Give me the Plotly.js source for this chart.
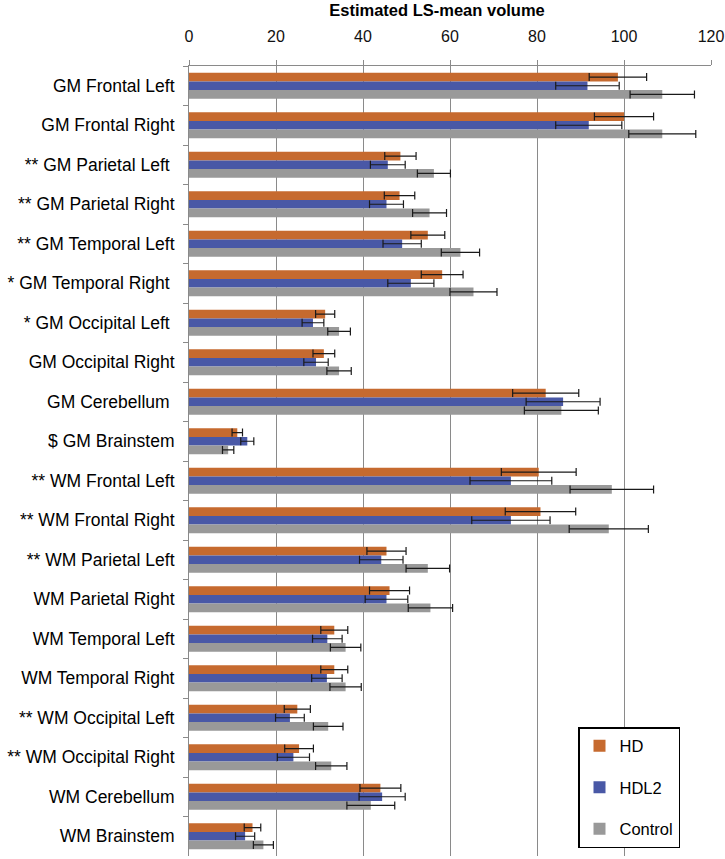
<!DOCTYPE html>
<html>
<head>
<meta charset="utf-8">
<script src="https://cdn.plot.ly/plotly-3.0.1.min.js"></script>
<style>html,body{margin:0;padding:0;background:#fff;}#chart{width:725px;height:859px;}</style>
</head>
<body>
<div id="chart"></div>
<script>
const categories = [
  "GM Frontal Left", "GM Frontal Right", "** GM Parietal Left\u00a0", "** GM Parietal Right",
  "** GM Temporal Left", "* GM Temporal Right\u00a0", "* GM Occipital Left\u00a0", "GM Occipital Right",
  "GM Cerebellum\u00a0", "$ GM Brainstem", "** WM Frontal Left", "** WM Frontal Right",
  "** WM Parietal Left", "WM Parietal Right", "WM Temporal Left", "WM Temporal Right",
  "** WM Occipital Left", "** WM Occipital Right", "WM Cerebellum", "WM Brainstem"
];
const hdValues      = [98.6, 100.0, 48.6, 48.4, 54.9, 58.2, 31.3, 31.0, 82.0, 11.1, 80.4, 80.8, 45.4, 46.1, 33.4, 33.4, 24.9, 25.3, 44.0, 14.6];
const hdErrors      = [6.6, 6.8, 3.6, 3.5, 3.9, 4.8, 2.2, 2.5, 7.6, 1.2, 8.6, 8.1, 4.5, 4.6, 3.1, 3.1, 3.0, 3.3, 4.7, 1.9];
const hdl2Values    = [91.6, 91.9, 45.7, 45.4, 49.0, 51.0, 28.5, 29.2, 86.0, 13.4, 74.0, 74.0, 44.2, 45.4, 31.8, 31.7, 23.2, 24.0, 44.4, 12.9];
const hdl2Errors    = [7.3, 7.6, 4.0, 3.9, 4.4, 5.3, 2.5, 2.8, 8.5, 1.5, 9.4, 9.0, 5.0, 4.9, 3.4, 3.5, 3.3, 3.7, 5.3, 2.2];
const controlValues = [108.8, 108.8, 56.3, 55.3, 62.4, 65.4, 34.5, 34.5, 85.6, 9.0, 97.2, 96.5, 54.9, 55.5, 36.0, 36.0, 32.0, 32.7, 41.8, 17.1];
const controlErrors = [7.4, 7.7, 3.8, 3.9, 4.4, 5.4, 2.6, 2.8, 8.5, 1.3, 9.6, 9.1, 5.0, 5.1, 3.5, 3.6, 3.4, 3.6, 5.5, 2.3];
const seriesNames = ["HD", "HDL2", "Control"];
const xTickVals = [0, 20, 40, 60, 80, 100, 120];

const colors = ["#C66A2F", "#4958A6", "#999999"];
const vals = [hdValues, hdl2Values, controlValues];
const errs = [hdErrors, hdl2Errors, controlErrors];

const traces = seriesNames.map((name, i) => ({
  type: "bar",
  orientation: "h",
  name: name,
  legendgroup: name,
  y: categories,
  x: vals[i],
  marker: {color: colors[i], line: {width: 0}},
  error_x: {type: "data", array: errs[i], visible: true, color: "#1a1a1a", thickness: 1.2, width: 4},
  hoverinfo: "x+y+name"
}));

const layout = {
  width: 725, height: 859,
  margin: {l: 189, r: 14, t: 66, b: 3},
  paper_bgcolor: "#fff", plot_bgcolor: "#fff",
  font: {family: "Liberation Sans, Arial, sans-serif", color: "#000"},
  title: {
    text: "<b>Estimated LS-mean volume</b>",
    font: {size: 16.5, color: "#000", family: "Liberation Sans, Arial, sans-serif"},
    xref: "container", x: 437/725, xanchor: "center",
    yref: "container", y: 1 - 10/859, yanchor: "middle"
  },
  barmode: "group",
  bargap: 0.34,
  bargroupgap: 0,
  showlegend: true,
  legend: {
    x: (578-189)/522, xanchor: "left",
    y: (856-727)/790, yanchor: "top",
    bgcolor: "#fff", bordercolor: "#000", borderwidth: 1.5,
    font: {size: 16.5, color: "#000"},
    traceorder: "grouped", tracegroupgap: 17,
    itemclick: false
  },
  xaxis: {
    side: "top",
    range: [0, 120],
    tickvals: xTickVals,
    ticktext: xTickVals.map(String),
    showgrid: true, gridcolor: "#8a8a8a", gridwidth: 1,
    zeroline: false,
    showline: true, linecolor: "#8a8a8a", linewidth: 1,
    ticks: "outside", ticklen: 5, tickcolor: "#8a8a8a",
    ticklabelstandoff: 12,
    tickfont: {size: 16, color: "#111"},
    fixedrange: true
  },
  yaxis: {
    type: "category",
    autorange: "reversed",
    showline: true, linecolor: "#8a8a8a", linewidth: 1,
    ticks: "outside", ticklen: 5, tickcolor: "#8a8a8a",
    tickson: "boundaries",
    showgrid: false, zeroline: false,
    ticklabelstandoff: 10,
    tickfont: {size: 17.5, color: "#000"},
    fixedrange: true
  }
};

Plotly.newPlot("chart", traces, layout, {displayModeBar: false});
</script>
</body>
</html>
